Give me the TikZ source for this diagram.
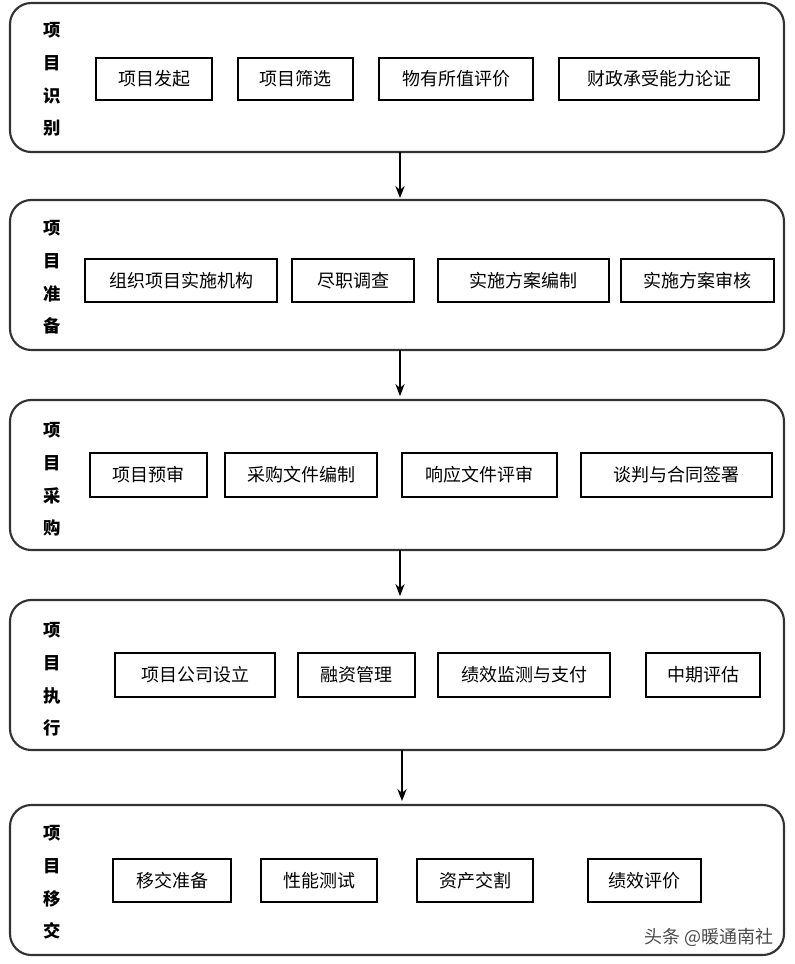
\documentclass[tikz,border=0pt]{standalone}
\usepackage{fontspec}
\newfontfamily\cjk{Noto Sans CJK SC}
\usetikzlibrary{arrows.meta}
\begin{document}
\begin{tikzpicture}[x=0.75pt,y=-0.75pt,
  stage/.style={draw=black!80,line width=1.6pt,rounded corners=16pt},
  item/.style={draw=black,line width=1.5pt,font=\cjk\fontsize{13.5}{15}\selectfont,inner sep=0pt},
  side/.style={font=\cjk\bfseries\fontsize{13}{15}\selectfont,inner sep=0pt},
  flow/.style={-{Stealth[length=9pt,width=7pt]},line width=1.4pt}]
\fill[white] (0,0) rectangle (794,964);
\useasboundingbox (0,0) rectangle (794,964);
% stages
\draw[stage] (10,3) rectangle (784,152); \coordinate (s1b) at (400,152);
\draw[stage] (10,200) rectangle (784,350); \coordinate (s2b) at (400,350);
\draw[stage] (10,400) rectangle (784,550); \coordinate (s3b) at (400,550);
\draw[stage] (10,600) rectangle (784,750); \coordinate (s4b) at (402,750);
\draw[stage] (10,805) rectangle (784,955);
\coordinate (s2t) at (400,198); \coordinate (s3t) at (400,396);
\coordinate (s4t) at (400,596); \coordinate (s5t) at (402,801);
% side labels
\foreach \y/\a/\b [count=\i] in {30/识/别,228/准/备,430/采/购,630/执/行,833/移/交}{
  \node[side] (L\i a) at (52,\y) {项};
  \node[side] (L\i b) at (52,\y+33) {目};
  \node[side] (L\i c) at (52,\y+66) {\a};
  \node[side] (L\i d) at (52,\y+98) {\b};
}
% items
\newcommand{\itembox}[6]{\node[item,minimum width=#3*0.75pt - 1.5pt,minimum height=#5*0.75pt-1.5pt] (#1) at ({(#2+#3/2)},{(#4+#5/2)}) {#6};}
% row 1
\itembox{a1}{95}{118}{57}{44}{项目发起}
\itembox{a2}{237}{117}{57}{44}{项目筛选}
\itembox{a3}{378}{156}{57}{44}{物有所值评价}
\itembox{a4}{558}{202}{57}{44}{财政承受能力论证}
% row 2
\itembox{b1}{84}{194}{258}{45}{组织项目实施机构}
\itembox{b2}{291}{124}{258}{45}{尽职调查}
\itembox{b3}{437}{173}{258}{45}{实施方案编制}
\itembox{b4}{620}{155}{258}{45}{实施方案审核}
% row 3
\itembox{c1}{89}{119}{452}{46}{项目预审}
\itembox{c2}{224}{154}{452}{46}{采购文件编制}
\itembox{c3}{401}{157}{452}{46}{响应文件评审}
\itembox{c4}{580}{193}{452}{46}{谈判与合同签署}
% row 4
\itembox{d1}{114}{162}{652}{46}{项目公司设立}
\itembox{d2}{297}{119}{652}{46}{融资管理}
\itembox{d3}{437}{174}{652}{46}{绩效监测与支付}
\itembox{d4}{645}{116}{652}{46}{中期评估}
% row 5
\itembox{e1}{112}{120}{858}{45}{移交准备}
\itembox{e2}{260}{118}{858}{45}{性能测试}
\itembox{e3}{416}{118}{858}{45}{资产交割}
\itembox{e4}{587}{115}{858}{45}{绩效评价}
% arrows
\draw[flow] (s1b) -- (s2t);
\draw[flow] (s2b) -- (s3t);
\draw[flow] (s3b) -- (s4t);
\draw[flow] (s4b) -- (s5t);
% watermark
\node[font=\cjk\fontsize{13.5}{15}\selectfont,text=black!70,anchor=east] (wm) at (778,937) {头条 @暖通南社};
\end{tikzpicture}
\end{document}
